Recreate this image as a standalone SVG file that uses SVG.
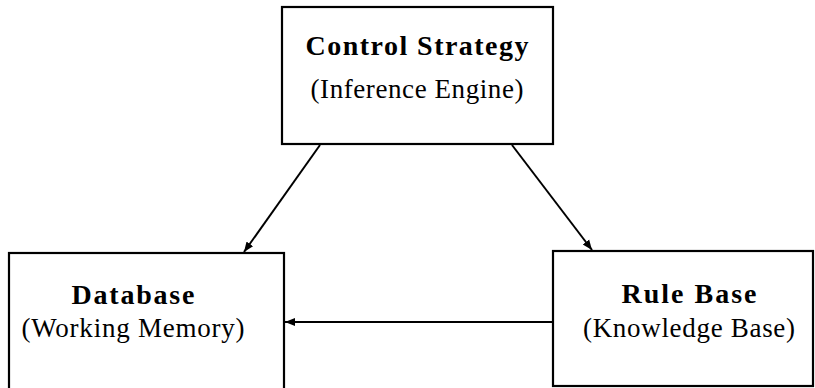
<svg xmlns="http://www.w3.org/2000/svg" width="815" height="388" viewBox="0 0 815 388">
<style>
.box{fill:#fff;stroke:#000;stroke-width:2.2}
.t{font-family:"Liberation Serif","Times New Roman",serif;font-size:27px;fill:#000;text-anchor:middle}
.b{font-weight:bold;font-size:28px}
.c{stroke:#000;stroke-width:2;fill:none;marker-end:url(#ah)}
</style>
<defs>
<marker id="ah" viewBox="0 0 10 10" refX="10" refY="5" markerWidth="10" markerHeight="10" markerUnits="userSpaceOnUse" orient="auto">
<path d="M0,1 L10,5 L0,9 Z" fill="#000"/>
</marker>
</defs>
<rect width="815" height="388" fill="#fff"/>
<g id="control-strategy">
<rect class="box" x="282" y="7" width="271" height="137"/>
<text class="t b" x="417" y="55" textLength="223" lengthAdjust="spacing">Control Strategy</text>
<text class="t" x="417" y="98" textLength="213" lengthAdjust="spacing">(Inference Engine)</text>
</g>
<g id="database">
<rect class="box" x="9" y="253" width="275" height="145"/>
<text class="t b" x="133" y="304" textLength="123" lengthAdjust="spacing">Database</text>
<text class="t" x="133" y="337" textLength="223" lengthAdjust="spacing">(Working Memory)</text>
</g>
<g id="rule-base">
<rect class="box" x="553" y="251" width="260" height="135"/>
<text class="t b" x="689" y="303" textLength="135" lengthAdjust="spacing">Rule Base</text>
<text class="t" x="689" y="337" textLength="212" lengthAdjust="spacing">(Knowledge Base)</text>
</g>
<g id="connectors">
<line class="c" x1="320" y1="145" x2="244" y2="252"/>
<line class="c" x1="512" y1="145" x2="592" y2="250"/>
<line class="c" x1="552" y1="322" x2="285" y2="322"/>
</g>
</svg>
